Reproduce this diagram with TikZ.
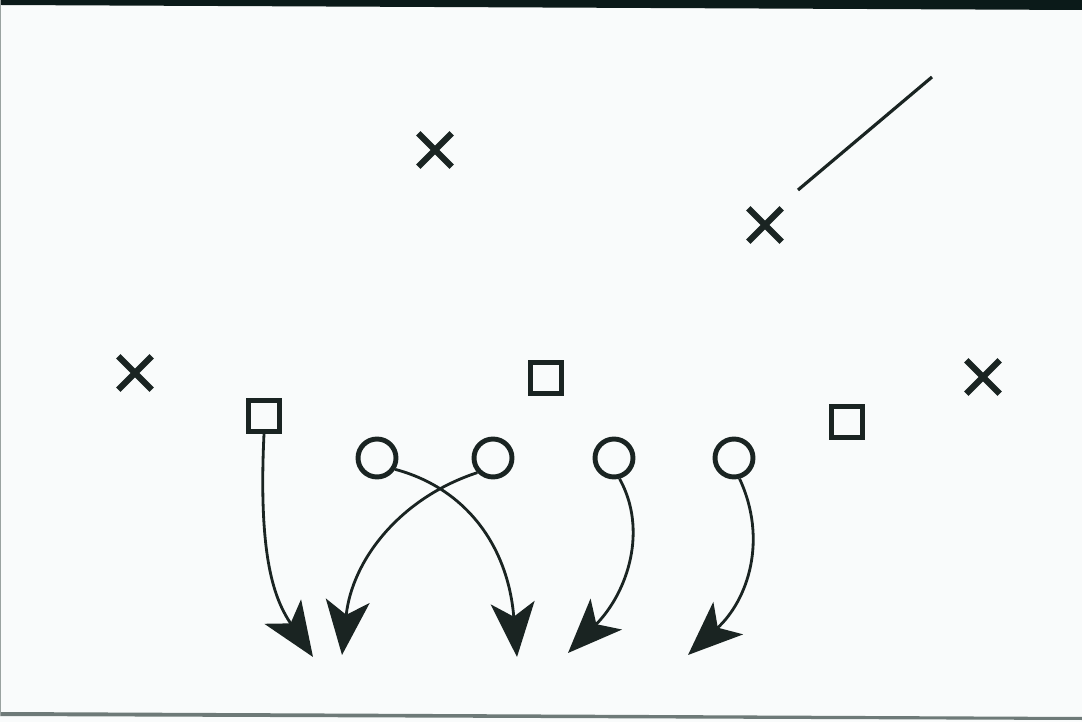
\documentclass[tikz,border=0pt]{standalone}
\usetikzlibrary{shapes.misc,arrows.meta}
\definecolor{ink}{HTML}{1A2422}
\definecolor{paper}{HTML}{F9FBFB}
\definecolor{band}{HTML}{0B1A19}
\definecolor{rule}{HTML}{6E7A78}
\tikzset{
  px/.style={x=0.02cm,y=-0.02cm},
  xmark/.style={cross out,draw=ink,line width=3.6pt,minimum size=0.54cm,inner sep=0pt},
  sqmark/.style={rectangle,draw=ink,line width=2.8pt,minimum size=0.62cm,inner sep=0pt},
  omark/.style={circle,draw=ink,line width=2.8pt,minimum size=0.76cm,inner sep=0pt},
  route/.style={draw=ink,line width=1.6pt,-{Stealth[length=31pt,width=25pt,inset=8pt]}},
  plain/.style={draw=ink,line width=1.8pt}
}
\begin{document}
\begin{tikzpicture}[px]
\fill[paper] (0,0) rectangle (1082,722);
\useasboundingbox (0,0) rectangle (1082,722);
% frame edges of the scan
\fill[band] (0,0) -- (1082,0) -- (1082,10) -- (0,5) -- cycle;
\fill[rule] (0,712) -- (1082,717) -- (1082,720) -- (0,716) -- cycle;
\fill[rule!70] (0,0) rectangle (1.5,716);
% defenders
\node[xmark] (x1) at (435,150) {};
\node[xmark] (x2) at (765,225) {};
\node[xmark] (x3) at (135,373) {};
\node[xmark] (x4) at (983,377) {};
\coordinate (la) at (798,190);
\coordinate (lb) at (932,77);
\draw[plain] (la) -- (lb);
% squares
\node[sqmark] (s1) at (264,416) {};
\node[sqmark] (s2) at (546,378) {};
\node[sqmark] (s3) at (847,422) {};
% circles
\node[omark] (c1) at (377,458) {};
\node[omark] (c2) at (493,458) {};
\node[omark] (c3) at (614,458) {};
\node[omark] (c4) at (734,458) {};
% end points of routes
\coordinate (t1) at (313,657);
\coordinate (t2) at (517,657);
\coordinate (t3) at (342,655);
\coordinate (t4) at (568,653);
\coordinate (t5) at (688,655);
% routes
\draw[route] (s1.south) .. controls (258,560) and (275,600) .. (t1);
\draw[route] (c1.-32) .. controls (465,488) and (508,545) .. (t2);
\draw[route] (c2.-137) .. controls (400,498) and (352,560) .. (t3);
\draw[route] (c3.-75) .. controls (648,530) and (628,592) .. (t4);
\draw[route] (c4.-75) .. controls (768,540) and (748,600) .. (t5);
\end{tikzpicture}
\end{document}
